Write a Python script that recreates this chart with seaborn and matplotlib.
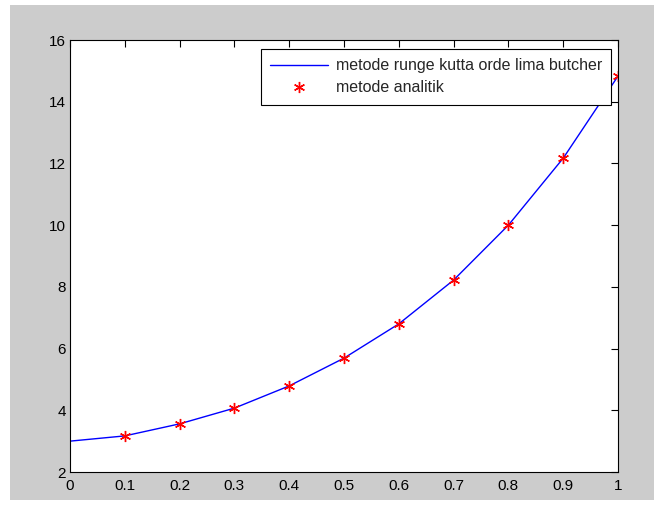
import numpy as np
import pandas as pd
import matplotlib
matplotlib.use("Agg")
import matplotlib.pyplot as plt
from matplotlib.patches import Rectangle
import seaborn as sns

# Data
x = [0, 0.1, 0.2, 0.3, 0.4, 0.5, 0.6, 0.7, 0.8, 0.9, 1.0]
y_rk = [3.0, 3.17, 3.56, 4.07, 4.79, 5.69, 6.80, 8.22, 10.0, 12.17, 14.83]
x_an = [0.1, 0.2, 0.3, 0.4, 0.5, 0.6, 0.7, 0.8, 0.9, 1.0]
y_an = [3.17, 3.56, 4.07, 4.79, 5.69, 6.80, 8.22, 10.0, 12.17, 14.83]
xticks = [0, 0.1, 0.2, 0.3, 0.4, 0.5, 0.6, 0.7, 0.8, 0.9, 1]
xtick_labels = ["0", "0.1", "0.2", "0.3", "0.4", "0.5", "0.6", "0.7", "0.8", "0.9", "1"]
yticks = [2, 4, 6, 8, 10, 12, 14, 16]

sns.set_style("white")
plt.rcParams["font.family"] = ["Liberation Sans", "DejaVu Sans"]

fig = plt.figure(figsize=(6.54, 5.12), dpi=100, facecolor="white")
# grey MATLAB-style figure background with white margin
fig.patches.append(Rectangle((10/654, 12/512), 1 - 10/654, 1 - 12/512 - 5/512,
                             transform=fig.transFigure, facecolor="#cccccc",
                             edgecolor="none", zorder=-10))
ax = fig.add_axes([70/654, 40/512, 548/654, 432/512])
ax.set_facecolor("white")

df_rk = pd.DataFrame({"x": x, "y": y_rk})
df_an = pd.DataFrame({"x": x_an, "y": y_an})

sns.lineplot(data=df_rk, x="x", y="y", color="blue", linewidth=1,
             label="metode runge kutta orde lima butcher", ax=ax)
sns.lineplot(data=df_an, x="x", y="y", color="red", linestyle="none",
             marker=(6, 2, 0), markersize=8, markeredgewidth=1.0,
             markeredgecolor="red", label="metode analitik", ax=ax)

ax.set_xlim(0, 1)
ax.set_ylim(2, 16)
ax.set_xticks(xticks)
ax.set_xticklabels(xtick_labels)
ax.set_yticks(yticks)
ax.set_xlabel("")
ax.set_ylabel("")
ax.tick_params(direction="in", length=5, width=0.8, top=True, right=True,
               labelsize=11, colors="black")
ax.tick_params(axis="x", pad=5)
ax.tick_params(axis="y", pad=3)
for s in ax.spines.values():
    s.set_visible(True)
    s.set_color("black")
    s.set_linewidth(0.8)

leg = ax.legend(loc="upper right", bbox_to_anchor=(0.988, 0.98), borderaxespad=0,
                fancybox=False, framealpha=1, edgecolor="black", fontsize=11.5,
                handlelength=3.6, handletextpad=0.5, borderpad=0.6, labelspacing=0.45)
leg.get_frame().set_linewidth(0.8)

fig.savefig("out.png", dpi=100, facecolor=fig.get_facecolor())
